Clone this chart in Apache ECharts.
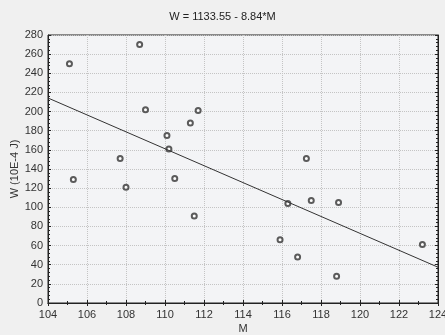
<!DOCTYPE html>
<html><head><meta charset="utf-8">
<script src="https://cdn.jsdelivr.net/npm/echarts@6/dist/echarts.min.js"></script>
<style>html,body{margin:0;padding:0;background:#f0f0f0}#c{width:445px;height:335px}</style>
</head><body><div id="c"></div>
<script>
const titleText = "W = 1133.55 - 8.84*M";
const xName = "M";
const yName = "W (10E-4 J)";
const mValues = [105.1, 105.3, 108.7, 107.7, 108.0, 109.0, 110.1, 110.2, 110.5, 111.3, 111.7, 111.5,
                 117.25, 117.5, 116.3, 118.9, 115.9, 116.8, 123.2, 118.8];
const wValues = [250, 129, 270, 151, 121, 202, 175, 161, 130, 188, 201, 91,
                 151, 107, 104, 105, 66, 48, 61, 28];
const intercept = 1133.55;
const slope = -8.84;
const xRange = [104, 124];
const yRange = [0, 280];

const pts = mValues.map((m, i) => [m, wValues[i]]);
const linePts = xRange.map(x => [x, intercept + slope * x]);

const font = "Liberation Sans, Arial, sans-serif";
const axisLine = {show: true, lineStyle: {color: '#222', width: 1}};
const chart = echarts.init(document.getElementById('c'));
chart.setOption({
  backgroundColor: '#f0f0f0',
  animation: false,
  title: {text: titleText, left: 'center', top: 6,
    textStyle: {fontFamily: font, fontSize: 11, fontWeight: 'normal', color: '#222'}},
  grid: {left: 48, right: 7, top: 35, bottom: 32, outerBoundsMode: 'none', containLabel: false,
    show: true, backgroundColor: '#f3f4f6', borderColor: '#222', borderWidth: 1},
  xAxis: [{
    type: 'value', min: xRange[0], max: xRange[1], interval: 2,
    name: xName, nameLocation: 'middle', nameGap: 20, nameMoveOverlap: false,
    nameTextStyle: {fontFamily: font, fontSize: 11, color: '#333'},
    axisLine: axisLine,
    axisTick: {show: true, inside: true, length: 3, lineStyle: {color: '#222'}},
    minorTick: {show: true, splitNumber: 2, length: 2, lineStyle: {color: '#222'}},
    axisLabel: {fontFamily: font, fontSize: 11, color: '#333', margin: 6},
    splitLine: {show: true, lineStyle: {color: '#c4c4c4', type: [1, 1]}}
  }, {
    type: 'value', position: 'top', min: xRange[0], max: xRange[1], interval: 2,
    axisLine: axisLine,
    axisTick: {show: true, inside: true, length: 3, lineStyle: {color: '#222'}},
    minorTick: {show: true, splitNumber: 2, length: 2, lineStyle: {color: '#222'}},
    axisLabel: {show: false}, splitLine: {show: false}
  }],
  yAxis: [{
    type: 'value', min: yRange[0], max: yRange[1], interval: 20,
    name: yName, nameLocation: 'middle', nameGap: 28, nameRotate: 90, nameMoveOverlap: false,
    nameTextStyle: {fontFamily: font, fontSize: 11, color: '#333'},
    axisLine: axisLine,
    axisTick: {show: true, inside: true, length: 3, lineStyle: {color: '#222'}},
    minorTick: {show: true, splitNumber: 5, length: 2, lineStyle: {color: '#222'}},
    axisLabel: {fontFamily: font, fontSize: 11, color: '#333', margin: 5},
    splitLine: {show: true, lineStyle: {color: '#c4c4c4', type: [1, 1]}}
  }, {
    type: 'value', position: 'right', min: yRange[0], max: yRange[1], interval: 20,
    axisLine: axisLine,
    axisTick: {show: true, inside: true, length: 3, lineStyle: {color: '#222'}},
    minorTick: {show: true, splitNumber: 5, length: 2, lineStyle: {color: '#222'}},
    axisLabel: {show: false}, splitLine: {show: false}
  }],
  series: [{
    type: 'line', data: linePts, symbol: 'none', silent: true,
    lineStyle: {color: '#333', width: 1}
  }, {
    type: 'scatter', data: pts, symbol: 'emptyCircle', symbolSize: 5,
    itemStyle: {color: '#333', borderWidth: 0.7}
  }]
});
</script></body></html>
